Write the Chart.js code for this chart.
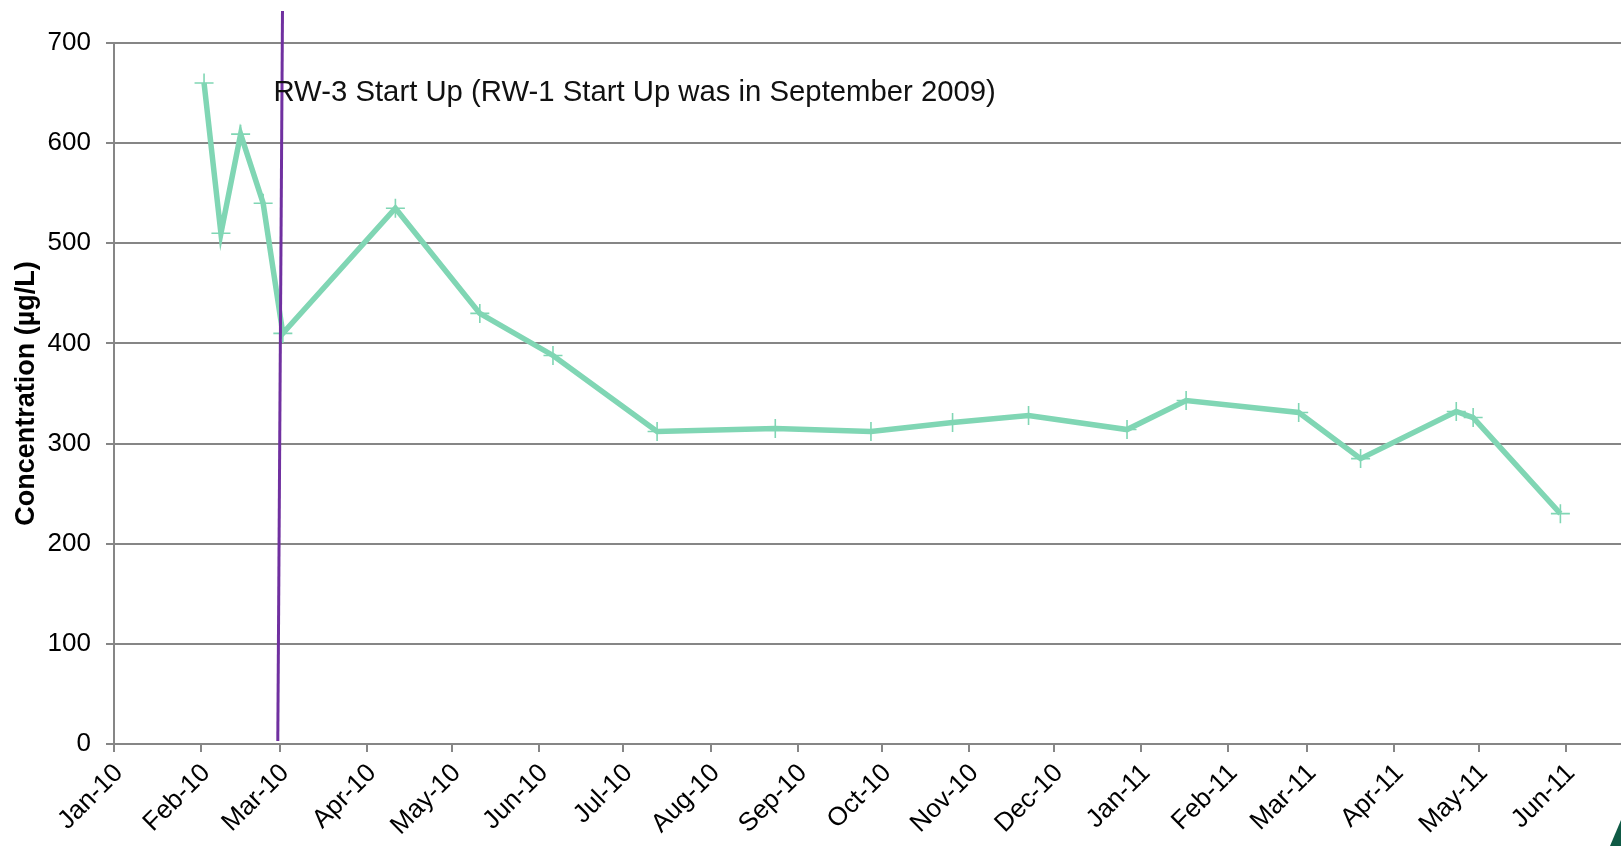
<!DOCTYPE html>
<html>
<head>
<meta charset="utf-8">
<title>RW-3 concentration</title>
<script src="https://cdn.jsdelivr.net/npm/chart.js@4.4.0/dist/chart.umd.min.js"></script>
<style>
    html, body { margin: 0; padding: 0; background: #fff; }
    #wrap { width: 1621px; height: 846px; position: relative; }
</style>
</head>
<body>
<div id="wrap"><canvas id="chart"></canvas></div>
<script>
// Sample dates and concentrations (µg/L)
const sampleDates = ['2010-02-02', '2010-02-08', '2010-02-15', '2010-02-23', '2010-03-02',
    '2010-04-11', '2010-05-11', '2010-06-06', '2010-07-13', '2010-08-24', '2010-09-27',
    '2010-10-26', '2010-11-22', '2010-12-27', '2011-01-17', '2011-02-26', '2011-03-20',
    '2011-04-23', '2011-04-29', '2011-05-30'];
const concentrations = [660, 510, 609, 540, 410, 535, 430, 388, 312, 315, 312,
    321, 328, 314, 343, 331, 285, 332, 326, 230];

// Month ticks on the x axis
const tickDates = ['2010-01-01', '2010-02-01', '2010-03-01', '2010-04-01', '2010-05-01', '2010-06-01',
    '2010-07-01', '2010-08-01', '2010-09-01', '2010-10-01', '2010-11-01', '2010-12-01',
    '2011-01-01', '2011-02-01', '2011-03-01', '2011-04-01', '2011-05-01', '2011-06-01'];
const tickLabels = ['Jan-10', 'Feb-10', 'Mar-10', 'Apr-10', 'May-10', 'Jun-10', 'Jul-10', 'Aug-10',
    'Sep-10', 'Oct-10', 'Nov-10', 'Dec-10', 'Jan-11', 'Feb-11', 'Mar-11', 'Apr-11', 'May-11', 'Jun-11'];
const xStart = '2010-01-01';
const xEnd = '2011-06-20T13:00:00Z';

// Start-up marker (hand drawn line, a little tilted)
const startupDates = ['2010-03-01T21:00:00Z', '2010-02-28T05:00:00Z'];
const startupValues = [732, 3];
const startupNote = 'RW-3 Start Up (RW-1 Start Up was in September 2009)';

const toMs = s => Date.parse(s);
const GRID = '#868686';
const FONT = "'Liberation Sans', Arial, sans-serif";

const notePlugin = {
    id: 'notePlugin',
    afterDatasetsDraw(chart) {
        const { ctx, scales } = chart;
        const x = scales.x.getPixelForValue(toMs(startupDates[0])) - 9;
        const y = scales.y.getPixelForValue(700) + 58;
        ctx.save();
        ctx.font = '29.3px ' + FONT;
        ctx.fillStyle = '#111';
        ctx.textBaseline = 'alphabetic';
        ctx.fillText(startupNote, x, y);
        ctx.restore();
    },
    afterDraw(chart) {
        // corner of the slide decoration
        const { ctx, width, height } = chart;
        ctx.save();
        ctx.fillStyle = '#0f5a45';
        ctx.beginPath();
        ctx.moveTo(width, height - 26);
        ctx.lineTo(width, height);
        ctx.lineTo(width - 11, height);
        ctx.closePath();
        ctx.fill();
        ctx.restore();
    }
};

new Chart(document.getElementById('chart'), {
    type: 'line',
    data: {
        datasets: [
            {
                label: 'RW-3',
                data: sampleDates.map((d, i) => ({ x: toMs(d), y: concentrations[i] })),
                borderColor: '#80d6b4',
                backgroundColor: '#80d6b4',
                borderWidth: 5.5,
                tension: 0,
                pointStyle: 'cross',
                pointRadius: 9.5,
                pointBorderWidth: 1.6,
                pointBorderColor: '#80d6b4',
                order: 1
            },
            {
                label: 'Start up',
                data: startupDates.map((d, i) => ({ x: toMs(d), y: startupValues[i] })),
                borderColor: '#7030a0',
                borderWidth: 3,
                pointRadius: 0,
                clip: false,
                order: 0
            }
        ]
    },
    options: {
        responsive: true,
        maintainAspectRatio: false,
        animation: false,
        layout: { autoPadding: false, padding: { top: 43, right: 0, bottom: 0, left: 0 } },
        plugins: { legend: { display: false }, tooltip: { enabled: false } },
        scales: {
            x: {
                type: 'linear',
                min: toMs(xStart),
                max: toMs(xEnd),
                afterBuildTicks: scale => { scale.ticks = tickDates.map(d => ({ value: toMs(d) })); },
                afterFit: scale => { scale.height = 102; scale.paddingLeft = 0; scale.paddingRight = 0; },
                ticks: {
                    autoSkip: false,
                    maxRotation: 45,
                    minRotation: 45,
                    padding: 6,
                    labelOffset: 5,
                    color: '#000',
                    font: { family: FONT, size: 26 },
                    callback: (v, i) => tickLabels[i]
                },
                grid: { drawOnChartArea: false, drawTicks: true, tickLength: 8, color: GRID, lineWidth: 2 },
                border: { display: true, color: GRID, width: 2 }
            },
            y: {
                min: 0,
                max: 700,
                afterFit: scale => { scale.width = 114; },
                ticks: {
                    stepSize: 100,
                    padding: 15,
                    color: '#000',
                    font: { family: FONT, size: 26 }
                },
                grid: { color: GRID, lineWidth: 2, tickLength: 8 },
                border: { display: true, color: GRID, width: 2 },
                title: {
                    display: true,
                    text: 'Concentration (µg/L)',
                    color: '#000',
                    font: { family: FONT, size: 27, weight: 'bold' },
                    padding: { top: 10, bottom: 0 }
                }
            }
        }
    },
    plugins: [notePlugin]
});
</script>
</body>
</html>
